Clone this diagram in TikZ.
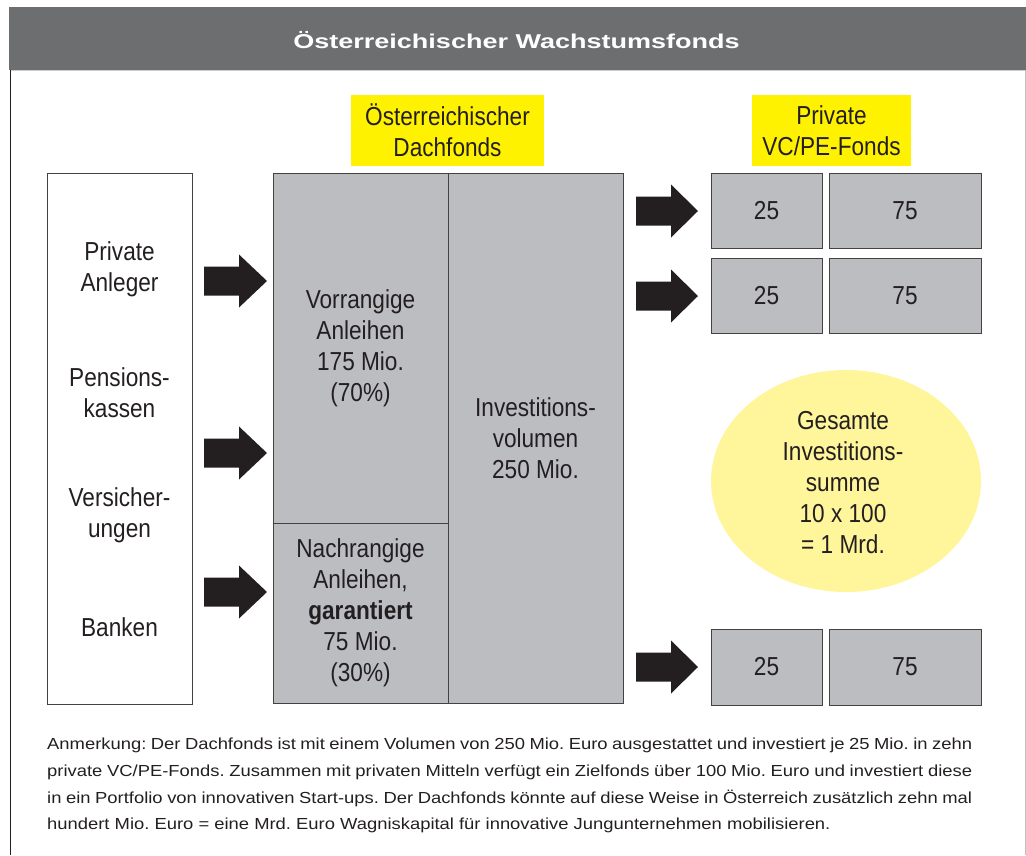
\documentclass[tikz,border=0pt]{standalone}
\usepackage{fontspec}
\setmainfont{Liberation Sans}
\newfontfamily\condfont[FakeStretch=0.87]{Liberation Sans}
\newfontfamily\titlefont[FakeStretch=1.35]{Liberation Sans}
\newfontfamily\notefont[FakeStretch=1.15]{Liberation Sans}
\usetikzlibrary{shapes.geometric}
\definecolor{bargray}{HTML}{6D6E70}
\definecolor{boxgray}{HTML}{BCBDC0}
\definecolor{signal}{HTML}{FFF200}
\definecolor{paleyellow}{HTML}{FFF59B}
\definecolor{ink}{HTML}{231F20}
\begin{document}
\frenchspacing
\begin{tikzpicture}[x=1pt,y=-1pt,
  every node/.style={inner sep=0pt,text=ink},
  condtext/.style={align=center,font=\condfont\fontsize{26}{31}\selectfont},
  cell/.style={condtext,draw=ink!85,line width=1pt,fill=boxgray},
  fundbox/.style={cell,minimum height=75},
  signbox/.style={condtext,fill=signal,minimum width=193,minimum height=71}]
  \useasboundingbox (0,0) rectangle (1026,855);
  % Title bar and frame
  \fill[bargray] (9,7) rectangle (1026,70);
  \node[text=white,font=\titlefont\bfseries\fontsize{20}{24}\selectfont] (titel) at (516.5,40) {Österreichischer Wachstumsfonds};
  \draw[gray!40,line width=1pt] (10,70.5) -- (1025,70.5);
  \draw[ink,line width=1pt] (10,70) -- (10,855);
  \draw[gray!50,line width=1pt] (1025,70) -- (1025,855);
  % Labels on top
  \node[signbox] (dachlabel) at (447.5,130.5) {Österreichischer\\Dachfonds};
  \node[signbox,minimum width=159] (vclabel) at (831.5,130.5) {Private\\VC/PE-Fonds};
  % Investors
  \node[draw=ink!85,line width=1pt,minimum width=145,minimum height=531] (anleger) at (119.5,438.5) {};
  \node[condtext] (quelle1) at (119.5,269.5) {Private\\Anleger};
  \node[condtext] (quelle2) at (119.5,392.5) {Pensions-\\kassen};
  \node[condtext] (quelle3) at (119.5,515) {Versicher-\\ungen};
  \node[condtext] (quelle4) at (119.5,627) {Banken};
  % Fund of funds
  \node[cell,minimum width=175,minimum height=530] (invest) at (535.5,438) {Investitions-\\volumen\\250 Mio.};
  \node[cell,minimum width=175,minimum height=350] (vorrang) at (360.5,348) {Vorrangige\\Anleihen\\175 Mio.\\(70\%)};
  \node[cell,minimum width=175,minimum height=180] (nachrang) at (360.5,613) {Nachrangige\\Anleihen,\\\textbf{garantiert}\\75 Mio.\\(30\%)};
  % Target funds
  \node[fundbox,minimum width=111] (ziel1a) at (766.5,210.5) {25};
  \node[fundbox,minimum width=152] (ziel1b) at (905,210.5) {75};
  \node[fundbox,minimum width=111] (ziel2a) at (766.5,295.5) {25};
  \node[fundbox,minimum width=152] (ziel2b) at (905,295.5) {75};
  \node[fundbox,minimum width=111,minimum height=76] (ziel3a) at (766.5,667) {25};
  \node[fundbox,minimum width=152,minimum height=76] (ziel3b) at (905,667) {75};
  \node[ellipse,fill=paleyellow,minimum width=270,minimum height=222,condtext] (summe) at (846,481) {};
  \node[condtext] (summetext) at (843,483) {Gesamte\\Investitions-\\summe\\10 x 100\\= 1 Mrd.};
  % Block arrows
  \foreach \y in {281,453,592}%
    \fill[ink] (204,\y-14.5) -- (239,\y-14.5) -- (239,\y-26.5) -- (267,\y) -- (239,\y+26.5) -- (239,\y+14.5) -- (204,\y+14.5) -- cycle;
  \foreach \y in {211,296,667}%
    \fill[ink] (636,\y-14.5) -- (671,\y-14.5) -- (671,\y-26.5) -- (698,\y) -- (671,\y+26.5) -- (671,\y+14.5) -- (636,\y+14.5) -- cycle;
  % Note
  \node[anchor=north west,align=left,font=\notefont\fontsize{16}{26.7}\selectfont] (anmerkung) at (47,738) {%
    \hbox to 925pt{Anmerkung: Der Dachfonds ist mit einem Volumen von 250 Mio. Euro ausgestattet und investiert je 25 Mio. in zehn}\\
    \hbox to 925pt{private VC/PE-Fonds. Zusammen mit privaten Mitteln verfügt ein Zielfonds über 100 Mio. Euro und investiert diese}\\
    \hbox to 925pt{in ein Portfolio von innovativen Start-ups. Der Dachfonds könnte auf diese Weise in Österreich zusätzlich zehn mal}\\
    hundert Mio. Euro = eine Mrd. Euro Wagniskapital für innovative Jungunternehmen mobilisieren.};
\end{tikzpicture}
\end{document}
